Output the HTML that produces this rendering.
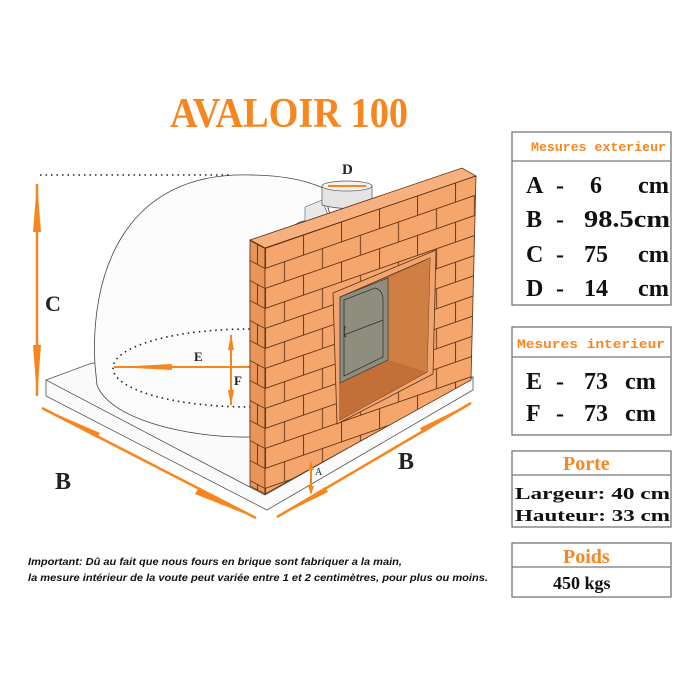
<!DOCTYPE html>
<html><head><meta charset="utf-8"><style>
html,body{margin:0;padding:0;background:#fff;}
svg{display:block;}
</style></head><body>
<svg width="700" height="700" viewBox="0 0 700 700" xmlns="http://www.w3.org/2000/svg">
<defs>
<pattern id="brick" width="38" height="40" patternUnits="userSpaceOnUse" patternTransform="translate(265,248) skewY(-19.2)">
<rect width="38" height="40" fill="#F4A66C"/>
<path d="M0 0.5H38M0 20.5H38M0.5 0V20M19.5 20V40" stroke="#6b3a1a" stroke-width="1" fill="none"/>
</pattern>
<pattern id="brickside" width="15" height="40" patternUnits="userSpaceOnUse" patternTransform="translate(250,240) skewY(28)">
<rect width="15" height="40" fill="#E8955A"/>
<path d="M0 0.5H15M0 20.5H15M7.5 0V20" stroke="#6b3a1a" stroke-width="1" fill="none"/>
</pattern>
<clipPath id="ellclip"><rect x="0" y="0" width="250" height="700"/></clipPath>
</defs>
<rect width="700" height="700" fill="#fff"/>

<text x="170" y="127" textLength="238" lengthAdjust="spacingAndGlyphs" font-family="Liberation Serif, serif" font-weight="bold" font-size="42" fill="#F7861E">AVALOIR 100</text>

<path d="M46,380 L92,363 L473,377 L473,390 L267,510 L46,396 Z" fill="#fafafa" stroke="#555" stroke-width="0.8"/>
<path d="M46,380 L265,495 L473,377" fill="none" stroke="#555" stroke-width="0.8"/>
<path d="M95,365 C90,280 120,180 235,175 C280,174 305,180 323,188 L330,215 L300,222 L250,250 L250,437 C190,438 110,420 97,385 Z" fill="#fcfcfc" stroke="#444" stroke-width="0.8"/>
<path d="M305,207 L322,200 L330,220 L305,222 Z" fill="#e8e8e8" stroke="#555" stroke-width="0.6"/>
<path d="M322,186 L322,205 Q347,212 372,205 L372,186 Z" fill="#e4e4e4" stroke="#555" stroke-width="0.7"/>
<ellipse cx="347" cy="186" rx="25" ry="5" fill="#f2f2f2" stroke="#555" stroke-width="0.7"/>
<path d="M328,186 L366,186" stroke="#F7861E" stroke-width="2"/>
<text x="342" y="174" font-family="Liberation Serif, serif" font-weight="bold" font-size="15" fill="#222">D</text>

<ellipse cx="250" cy="368" rx="137" ry="39" fill="none" stroke="#222" stroke-width="1.6" stroke-dasharray="1.5 4" clip-path="url(#ellclip)"/>
<line x1="40" y1="175" x2="230" y2="175" stroke="#222" stroke-width="1.6" stroke-dasharray="1.5 4"/>

<path d="M114,367 L250,367" stroke="#F7861E" stroke-width="2"/>
<path d="M114,367 L172,364 L172,370 Z" fill="#F7861E"/>
<text x="194" y="361" font-family="Liberation Serif, serif" font-weight="bold" font-size="13" fill="#222">E</text>
<path d="M231,335 L231,405" stroke="#F7861E" stroke-width="2"/>
<path d="M231,334 L228,350 L234,350 Z M231,406 L228,390 L234,390 Z" fill="#F7861E"/>
<text x="234" y="385" font-family="Liberation Serif, serif" font-weight="bold" font-size="13" fill="#222">F</text>

<path d="M37,184 L37,396" stroke="#F7861E" stroke-width="2.5"/>
<path d="M37,182 L33,232 L41,232 Z M37,398 L33,345 L41,345 Z" fill="#F7861E"/>
<text x="45" y="311" font-family="Liberation Serif, serif" font-weight="bold" font-size="22" fill="#222">C</text>

<path d="M42,408 L256,518" stroke="#F7861E" stroke-width="2.5"/>
<path d="M40,407 L100,433 L97,438 Z M258,519 L195,494 L198,489 Z" fill="#F7861E"/>
<path d="M277,517 L471,403" stroke="#F7861E" stroke-width="2.5"/>
<path d="M275,518 L325,487 L328,492 Z M473,402 L423,433 L420,428 Z" fill="#F7861E"/>
<text x="55" y="489" font-family="Liberation Serif, serif" font-weight="bold" font-size="24" fill="#222">B</text>
<text x="398" y="469" font-family="Liberation Serif, serif" font-weight="bold" font-size="24" fill="#222">B</text>

<path d="M250,240 L462,168 L476,176 L265,248 Z" fill="#F7B080" stroke="#5a3010" stroke-width="0.8"/>
<path d="M250,240 L265,248 L265,494 L250,486 Z" fill="url(#brickside)" stroke="#5a3010" stroke-width="0.8"/>
<path d="M265,248 L476,176 L471,380 L265,494 Z" fill="url(#brick)" stroke="#5a3010" stroke-width="0.8"/>
<path d="M333,293 L436,250 L433,374 L337,424 Z" fill="#F0A573" stroke="#5a3010" stroke-width="0.8"/>
<path d="M340,297 L430,258 L427,372 L340,420 Z" fill="#C8773C" stroke="#5a3010" stroke-width="0.8"/>
<path d="M388,279 L430,258 L427,372 L388,360 Z" fill="#CF7F44"/>
<path d="M340,383 L388,360 L427,372 L340,420 Z" fill="#C27038"/>
<path d="M340,297 L388,278 L388,360 L340,383 Z" fill="#8f8d7e" stroke="#444" stroke-width="0.8"/>
<path d="M344,300 L375,288 Q383,290 383,300 L383,357 L344,376 Z" fill="none" stroke="#333" stroke-width="0.8"/>
<path d="M344,335 L383,320" stroke="#333" stroke-width="0.8"/>
<path d="M345,326 Q343,335 346,337" stroke="#333" stroke-width="1.2" fill="none"/>

<path d="M311,463 L311,493" stroke="#F7861E" stroke-width="2"/>
<path d="M311,461 L308,470 L314,470 Z M311,495 L308,486 L314,486 Z" fill="#F7861E"/>
<text x="315" y="475" font-family="Liberation Serif, serif" font-size="10" fill="#222">A</text>

<text x="28" y="565" textLength="374" lengthAdjust="spacingAndGlyphs" font-family="Liberation Sans, sans-serif" font-style="italic" font-weight="bold" font-size="10.5" fill="#111">Important: Dû au fait que nous fours en brique sont fabriquer a la main,</text>
<text x="28" y="581" textLength="460" lengthAdjust="spacingAndGlyphs" font-family="Liberation Sans, sans-serif" font-style="italic" font-weight="bold" font-size="10.5" fill="#111">la mesure intérieur de la voute peut variée entre 1 et 2 centimètres, pour plus ou moins.</text>

<g fill="none" stroke="#777" stroke-width="1.3">
<rect x="512" y="132" width="159" height="173"/><line x1="512" y1="161" x2="671" y2="161"/>
<rect x="512" y="327" width="159" height="108"/><line x1="512" y1="357" x2="671" y2="357"/>
<rect x="512" y="451" width="159" height="76"/><line x1="512" y1="475" x2="671" y2="475"/>
<rect x="512" y="543" width="159" height="54"/><line x1="512" y1="567" x2="671" y2="567"/>
</g>
<g font-family="Liberation Mono, monospace" font-weight="bold">
<text x="531" y="151" textLength="135" lengthAdjust="spacingAndGlyphs" font-size="13" fill="#F7861E">Mesures exterieur</text>
<text x="517" y="348" textLength="148" lengthAdjust="spacingAndGlyphs" font-size="13" fill="#F7861E">Mesures interieur</text>
<g font-family="Liberation Serif, serif" font-size="24" fill="#111" font-weight="bold">
<text x="526" y="193">A</text><text x="556" y="193">-</text><text x="590" y="193">6</text><text x="638" y="193" textLength="31" lengthAdjust="spacingAndGlyphs">cm</text>
<text x="526" y="227">B</text><text x="556" y="227">-</text><text x="584" y="227" textLength="86" lengthAdjust="spacingAndGlyphs">98.5cm</text>
<text x="526" y="262">C</text><text x="556" y="262">-</text><text x="584" y="262">75</text><text x="638" y="262" textLength="31" lengthAdjust="spacingAndGlyphs">cm</text>
<text x="526" y="296">D</text><text x="556" y="296">-</text><text x="584" y="296">14</text><text x="638" y="296" textLength="31" lengthAdjust="spacingAndGlyphs">cm</text>
<text x="526" y="389">E</text><text x="556" y="389">-</text><text x="584" y="389">73</text><text x="625" y="389" textLength="31" lengthAdjust="spacingAndGlyphs">cm</text>
<text x="526" y="421">F</text><text x="556" y="421">-</text><text x="584" y="421">73</text><text x="625" y="421" textLength="31" lengthAdjust="spacingAndGlyphs">cm</text>
</g>
<text x="563" y="470" font-family="Liberation Serif, serif" font-size="20" fill="#F7861E">Porte</text>
<text x="515" y="499" textLength="155" lengthAdjust="spacingAndGlyphs" font-family="Liberation Serif, serif" font-size="17" fill="#111">Largeur: 40 cm</text>
<text x="515" y="521" textLength="155" lengthAdjust="spacingAndGlyphs" font-family="Liberation Serif, serif" font-size="17" fill="#111">Hauteur: 33 cm</text>
<text x="563" y="563" font-family="Liberation Serif, serif" font-size="20" fill="#F7861E">Poids</text>
<text x="553" y="589" font-family="Liberation Serif, serif" font-size="18" fill="#111">450 kgs</text>
</g>
</svg>
</body></html>
